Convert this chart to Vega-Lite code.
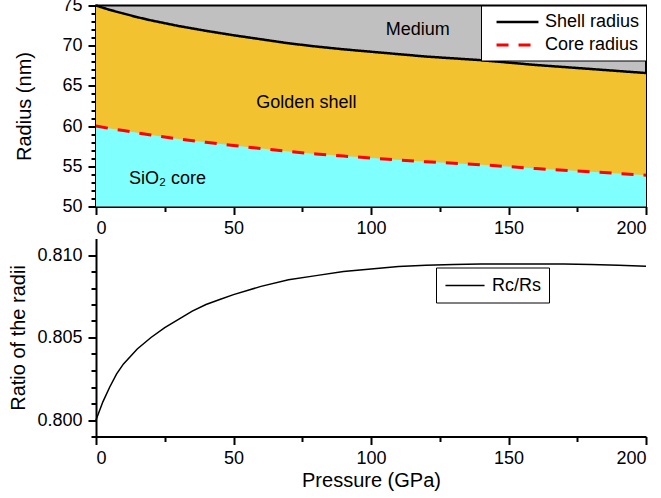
{
  "$schema": "https://vega.github.io/schema/vega-lite/v6.json",
  "padding": {"left": 8, "top": -4.5, "right": 5, "bottom": 5},
  "background": "white",
  "config": {
    "font": "Liberation Sans",
    "axis": {"grid": false, "domainColor": "black", "domainWidth": 2, "tickColor": "black", "tickWidth": 2, "labelColor": "black", "labelFontSize": 18, "titleFontSize": 20, "titleFontWeight": "normal", "titleColor": "black", "labelFont": "Liberation Sans", "titleFont": "Liberation Sans", "labelOverlap": false},
    "legend": {"labelFontSize": 18, "labelColor": "black", "labelFont": "Liberation Sans"}
  },
  "spacing": 0,
  "resolve": {"scale": {"color": "independent", "strokeDash": "independent", "strokeWidth": "independent"}, "legend": {"color": "independent", "strokeDash": "independent", "strokeWidth": "independent"}},
  "datasets": {
    "radii": [
      {"P": 0, "shell": 75.0, "core": 60.0},
      {"P": 5, "shell": 74.45, "core": 59.71},
      {"P": 10, "shell": 74.0, "core": 59.45},
      {"P": 15, "shell": 73.55, "core": 59.16},
      {"P": 20, "shell": 73.15, "core": 58.89},
      {"P": 25, "shell": 72.8, "core": 58.65},
      {"P": 30, "shell": 72.45, "core": 58.40},
      {"P": 40, "shell": 71.85, "core": 57.98},
      {"P": 50, "shell": 71.3, "core": 57.58},
      {"P": 60, "shell": 70.8, "core": 57.21},
      {"P": 70, "shell": 70.3, "core": 56.84},
      {"P": 80, "shell": 69.9, "core": 56.53},
      {"P": 90, "shell": 69.55, "core": 56.27},
      {"P": 100, "shell": 69.25, "core": 56.03},
      {"P": 120, "shell": 68.65, "core": 55.56},
      {"P": 140, "shell": 68.2, "core": 55.20},
      {"P": 160, "shell": 67.6, "core": 54.72},
      {"P": 180, "shell": 67.1, "core": 54.31},
      {"P": 200, "shell": 66.6, "core": 53.90}
    ],
    "regions": [
      {"P": 117, "R": 72.0, "label": "Medium"},
      {"P": 76.5, "R": 62.9, "label": "Golden shell"},
      {"P": 26, "R": 53.4, "label": "SiO₂ core"}
    ],
    "ratio": [
      {"P": 0, "ratio": 0.8000},
      {"P": 2.5, "ratio": 0.8011},
      {"P": 5, "ratio": 0.8020},
      {"P": 7.5, "ratio": 0.8028},
      {"P": 10, "ratio": 0.8034},
      {"P": 15, "ratio": 0.8043},
      {"P": 20, "ratio": 0.8050},
      {"P": 25, "ratio": 0.8056},
      {"P": 30, "ratio": 0.8061},
      {"P": 35, "ratio": 0.8066},
      {"P": 40, "ratio": 0.8070},
      {"P": 45, "ratio": 0.8073},
      {"P": 50, "ratio": 0.8076},
      {"P": 60, "ratio": 0.8081},
      {"P": 70, "ratio": 0.8085},
      {"P": 80, "ratio": 0.80875},
      {"P": 90, "ratio": 0.8090},
      {"P": 100, "ratio": 0.80915},
      {"P": 110, "ratio": 0.8093},
      {"P": 120, "ratio": 0.80938},
      {"P": 130, "ratio": 0.80943},
      {"P": 140, "ratio": 0.80945},
      {"P": 150, "ratio": 0.80946},
      {"P": 160, "ratio": 0.80946},
      {"P": 170, "ratio": 0.80945},
      {"P": 180, "ratio": 0.80942},
      {"P": 190, "ratio": 0.80938},
      {"P": 200, "ratio": 0.80932}
    ]
  },
  "vconcat": [
    {
      "width": 550,
      "height": 201,
      "view": {"stroke": "black", "strokeWidth": 2, "fill": "#C0C0C0"},
      "data": {"name": "radii"},
      "encoding": {
        "x": {"field": "P", "type": "quantitative", "scale": {"domain": [0, 200], "nice": false},
          "axis": {"values": [0, 25, 50, 75, 100, 125, 150, 175, 200], "labelExpr": "datum.value % 50 === 0 ? datum.label : ''", "tickSize": {"condition": {"test": "datum.value % 50 === 0", "value": 8}, "value": 5}, "title": null, "labelPadding": 5}}
      },
      "layer": [
        {
          "mark": {"type": "area", "color": "#F2C230"},
          "encoding": {
            "y": {"field": "shell", "type": "quantitative", "scale": {"domain": [50, 75], "nice": false, "zero": false},
              "axis": {"values": [50,51,52,53,54,55,56,57,58,59,60,61,62,63,64,65,66,67,68,69,70,71,72,73,74,75], "labelExpr": "datum.value % 5 === 0 ? datum.label : ''", "tickSize": {"condition": {"test": "datum.value % 5 === 0", "value": 8}, "value": 5}, "title": "Radius (nm)", "labelPadding": 6, "titlePadding": 27}},
            "y2": {"field": "core"}
          }
        },
        {
          "mark": {"type": "area", "color": "#80FFFF"},
          "encoding": {
            "y": {"field": "core", "type": "quantitative",
              "axis": {"values": [50,51,52,53,54,55,56,57,58,59,60,61,62,63,64,65,66,67,68,69,70,71,72,73,74,75], "labelExpr": "datum.value % 5 === 0 ? datum.label : ''", "tickSize": {"condition": {"test": "datum.value % 5 === 0", "value": 8}, "value": 5}, "title": "Radius (nm)", "labelPadding": 6, "titlePadding": 27}},
            "y2": {"datum": 50}
          }
        },
        {
          "transform": [{"fold": ["shell", "core"], "as": ["key", "value"]}],
          "mark": {"type": "line"},
          "encoding": {
            "y": {"field": "value", "type": "quantitative",
              "axis": {"values": [50,51,52,53,54,55,56,57,58,59,60,61,62,63,64,65,66,67,68,69,70,71,72,73,74,75], "labelExpr": "datum.value % 5 === 0 ? datum.label : ''", "tickSize": {"condition": {"test": "datum.value % 5 === 0", "value": 8}, "value": 5}, "title": "Radius (nm)", "labelPadding": 6, "titlePadding": 27}},
            "color": {"field": "key", "type": "nominal", "scale": {"domain": ["shell", "core"], "range": ["black", "red"]},
              "legend": {"title": null, "orient": "top-right", "offset": 0, "labelExpr": "datum.label === 'shell' ? 'Shell radius\u00a0\u00a0' : 'Core radius\u00a0\u00a0'", "symbolType": "M-2.33,0H2.33", "symbolSize": 324, "strokeColor": "black", "fillColor": "white", "padding": 6, "rowPadding": 3, "labelOffset": 17, "symbolOffset": 20}},
            "strokeDash": {"field": "key", "type": "nominal", "scale": {"domain": ["shell", "core"], "range": [[1, 0], [12, 10]]},
              "legend": {"title": null, "orient": "top-right", "offset": 0, "labelExpr": "datum.label === 'shell' ? 'Shell radius\u00a0\u00a0' : 'Core radius\u00a0\u00a0'", "symbolType": "M-2.33,0H2.33", "symbolSize": 324, "strokeColor": "black", "fillColor": "white", "padding": 6, "rowPadding": 3, "labelOffset": 17, "symbolOffset": 20}},
            "strokeWidth": {"field": "key", "type": "nominal", "scale": {"domain": ["shell", "core"], "range": [2.5, 3]},
              "legend": {"title": null, "orient": "top-right", "offset": 0, "labelExpr": "datum.label === 'shell' ? 'Shell radius\u00a0\u00a0' : 'Core radius\u00a0\u00a0'", "symbolType": "M-2.33,0H2.33", "symbolSize": 324, "strokeColor": "black", "fillColor": "white", "padding": 6, "rowPadding": 3, "labelOffset": 17, "symbolOffset": 20}}
          }
        },
        {
          "data": {"name": "regions"},
          "mark": {"type": "text", "fontSize": 18, "color": "black", "align": "center", "baseline": "middle"},
          "encoding": {
            "x": {"field": "P", "type": "quantitative"},
            "y": {"field": "R", "type": "quantitative",
              "axis": {"values": [50,51,52,53,54,55,56,57,58,59,60,61,62,63,64,65,66,67,68,69,70,71,72,73,74,75], "labelExpr": "datum.value % 5 === 0 ? datum.label : ''", "tickSize": {"condition": {"test": "datum.value % 5 === 0", "value": 8}, "value": 5}, "title": "Radius (nm)", "labelPadding": 6, "titlePadding": 27}},
            "text": {"field": "label"}
          }
        }
      ]
    },
    {
      "width": 550,
      "height": 198,
      "view": {"stroke": null},
      "data": {"name": "ratio"},
      "mark": {"type": "line", "strokeWidth": 1.5},
      "encoding": {
        "x": {"field": "P", "type": "quantitative", "scale": {"domain": [0, 200], "nice": false},
          "axis": {"values": [0, 25, 50, 75, 100, 125, 150, 175, 200], "labelExpr": "datum.value % 50 === 0 ? datum.label : ''", "tickSize": {"condition": {"test": "datum.value % 50 === 0", "value": 8}, "value": 5}, "title": "Pressure (GPa)", "labelPadding": 5, "titlePadding": 3}},
        "y": {"field": "ratio", "type": "quantitative", "scale": {"domain": [0.799, 0.811], "nice": false, "zero": false},
          "axis": {"values": [0.799,0.800,0.801,0.802,0.803,0.804,0.805,0.806,0.807,0.808,0.809,0.810], "labelExpr": "round(datum.value*1000) % 5 === 0 ? format(datum.value, '.3f') : ''", "tickSize": {"condition": {"test": "round(datum.value*1000) % 5 === 0", "value": 8}, "value": 5}, "title": "Ratio of the radii", "labelPadding": 6, "titlePadding": 8}},
        "color": {"datum": "Rc/Rs", "scale": {"range": ["black"]},
          "legend": {"title": null, "orient": "none", "legendX": 340, "legendY": 29, "symbolType": "M-2.17,0H2.17", "symbolSize": 324, "strokeColor": "black", "fillColor": "white", "padding": 8, "labelOffset": 17, "symbolOffset": 11}}
      }
    }
  ]
}
